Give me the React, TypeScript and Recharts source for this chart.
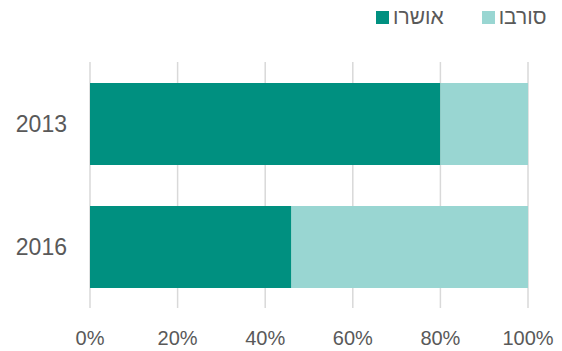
import { BarChart, Bar, XAxis, YAxis, CartesianGrid } from 'recharts';

const years = ['2013', '2016'];
const approved = [80, 46];
const rejected = [20, 54];
const xTicks = [0, 20, 40, 60, 80, 100];

const seriesNames = { approved: 'אושרו', rejected: 'סורבו' };
const DARK = '#009080';
const LIGHT = '#99D6D2';
const TEXT = '#595959';
const FONT = '"Liberation Sans", Arial, sans-serif';

const data = years.map((year, i) => ({
  year,
  approved: approved[i],
  rejected: rejected[i],
}));

const legendItems = [
  { name: seriesNames.approved, color: DARK },
  { name: seriesNames.rejected, color: LIGHT },
];

export default function App() {
  return (
    <div style={{ position: 'absolute', left: 0, top: 0, width: 562, height: 351, background: '#fff', fontFamily: FONT }}>
      {/* legend */}
      <div style={{ position: 'absolute', top: 5, left: 376, display: 'flex', alignItems: 'center', color: TEXT, fontSize: 21, lineHeight: '24px' }}>
        {legendItems.map((item, i) => (
          <div key={item.name} style={{ display: 'flex', alignItems: 'center', marginRight: i === 0 ? 38 : 0 }}>
            <span style={{ width: 13, height: 13, background: item.color, display: 'inline-block', marginRight: 4 }} />
            <span>{item.name}</span>
          </div>
        ))}
      </div>
      <BarChart
        width={562}
        height={351}
        data={data}
        layout="vertical"
        margin={{ top: 62, right: 34, bottom: 13, left: 0 }}
      >
        <CartesianGrid horizontal={false} stroke="#D9D9D9" strokeWidth={1.5} />
        <XAxis
          type="number"
          domain={[0, 100]}
          ticks={xTicks}
          tickFormatter={(v) => `${v}%`}
          axisLine={false}
          tickLine={false}
          tickSize={0}
          tickMargin={23}
          height={30}
          tick={{ fill: TEXT, fontSize: 20, fontFamily: FONT }}
        />
        <YAxis
          type="category"
          dataKey="year"
          width={90}
          axisLine={false}
          tickLine={false}
          tickSize={0}
          tickMargin={23}
          tick={{ fill: TEXT, fontSize: 23, fontFamily: FONT }}
        />
        <Bar dataKey="approved" stackId="a" fill={DARK} barSize={82} isAnimationActive={false} />
        <Bar dataKey="rejected" stackId="a" fill={LIGHT} barSize={82} isAnimationActive={false} />
      </BarChart>
    </div>
  );
}
